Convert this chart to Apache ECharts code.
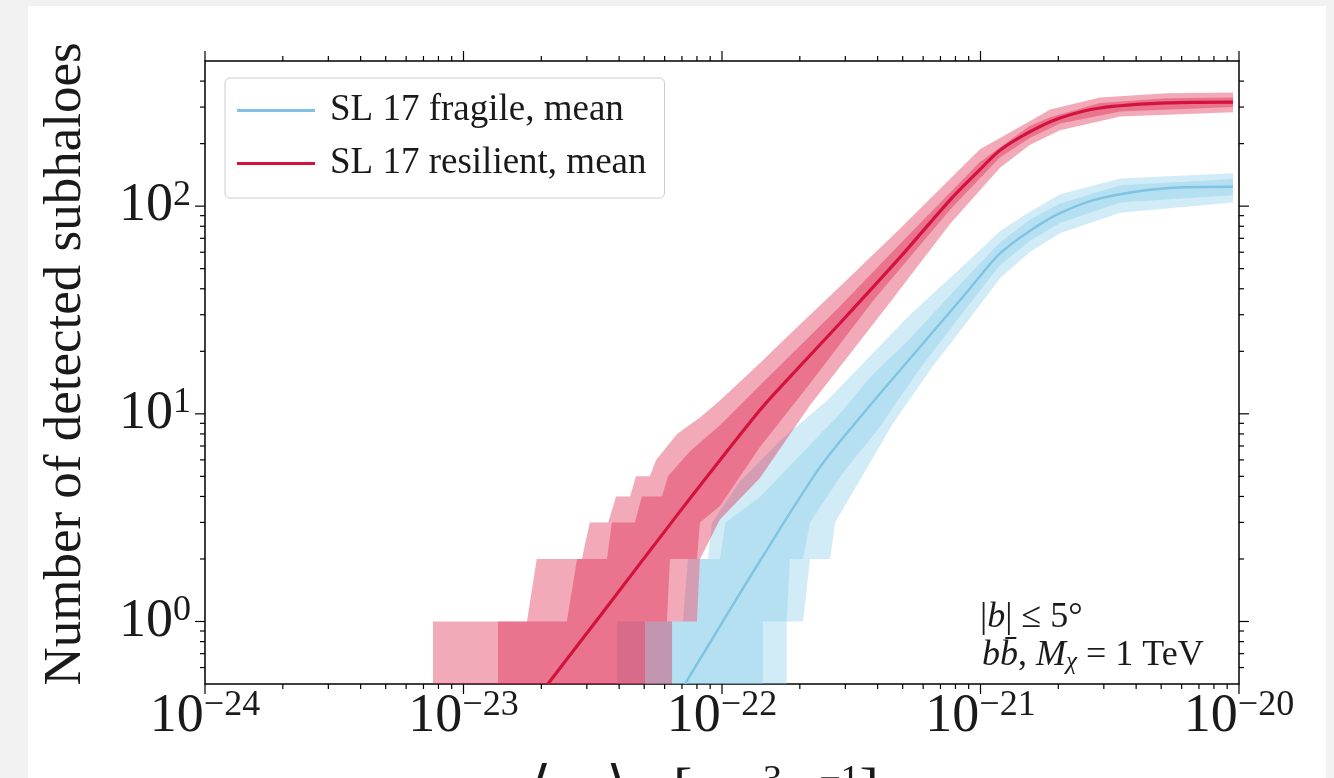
<!DOCTYPE html>
<html><head><meta charset="utf-8">
<script src="https://cdn.jsdelivr.net/npm/echarts@6/dist/echarts.min.js"></script>
<style>
html,body{margin:0;padding:0;background:#f2f2f2;}
#card{position:absolute;left:28px;top:6px;width:1298px;height:772px;background:#fff;}
#chart{position:absolute;left:0;top:0;width:1334px;height:778px;}
</style></head><body>
<div id="card"></div><div id="chart"></div>
<script>
// ---------------- data ----------------
const xMajorTicks = [1e-24, 1e-23, 1e-22, 1e-21, 1e-20];
const yMajorTicks = [1, 10, 100];
const minorMultipliers = [2, 3, 4, 5, 6, 7, 8, 9];

// SL 17 fragile (blue)
const fragileMeanX = [7.19e-23, 1.40e-22, 2.39e-22, 3.42e-22, 8.33e-22, 9.95e-22, 1.19e-21, 1.55e-21, 2.03e-21, 2.90e-21, 5.26e-21, 9.48e-21];
const fragileMeanY = [0.5, 1.95, 5.52, 9.62, 35.2, 46, 59.3, 76, 92.5, 109, 122, 124];

const fragileOuterUpX = [3.93e-23, 3.93e-23, 7.06e-23, 7.38e-23, 8.83e-23, 9.14e-23, 1.17e-22, 1.67e-22, 2.55e-22, 3.74e-22, 5.33e-22, 8.33e-22, 1.19e-21, 1.55e-21, 2.03e-21, 3.47e-21, 9.48e-21];
const fragileOuterUpY = [0.5, 1, 1, 2, 2, 3, 4.7, 7.4, 11.6, 19, 30, 50, 76, 94, 114, 136, 144];
const fragileOuterLoX = [1.78e-22, 1.78e-22, 2.06e-22, 2.19e-22, 2.62e-22, 2.74e-22, 3.21e-22, 4.59e-22, 6.55e-22, 8.33e-22, 1.19e-21, 1.55e-21, 2.03e-21, 3.47e-21, 9.48e-21];
const fragileOuterLoY = [0.5, 1, 1, 2, 2, 3, 4.2, 9, 17, 25, 45, 60, 74, 93, 104];

const fragileInnerUpX = [5.04e-23, 5.04e-23, 8.00e-23, 8.22e-23, 9.82e-23, 1.03e-22, 1.40e-22, 2.00e-22, 2.86e-22, 3.74e-22, 5.33e-22, 8.33e-22, 1.19e-21, 1.55e-21, 2.03e-21, 3.47e-21, 9.48e-21];
const fragileInnerUpY = [0.5, 1, 1, 2, 2, 3, 3.96, 6.3, 10, 15, 23, 42, 67, 86, 103, 126, 135];
const fragileInnerLoX = [1.44e-22, 1.44e-22, 1.78e-22, 1.83e-22, 2.06e-22, 2.19e-22, 2.94e-22, 3.98e-22, 5.83e-22, 8.33e-22, 1.19e-21, 1.55e-21, 2.03e-21, 3.47e-21, 9.48e-21];
const fragileInnerLoY = [0.5, 1, 1, 2, 2, 3, 5.2, 8.3, 16.5, 29.5, 52, 68, 83, 104, 113];

// SL 17 resilient (red)
const resilientMeanX = [2.12e-23, 3.37e-23, 6.89e-23, 1.40e-22, 1.78e-22, 2.86e-22, 4.89e-22, 7.62e-22, 9.95e-22, 1.19e-21, 1.55e-21, 2.03e-21, 2.90e-21, 5.26e-21, 9.48e-21];
const resilientMeanY = [0.5, 1.06, 3.4, 10.4, 14.5, 27.3, 56.8, 107, 150, 186, 228, 266, 297, 314, 317];

const resilientOuterUpX = [7.62e-24, 7.62e-24, 1.76e-23, 1.92e-23, 2.87e-23, 3.08e-23, 3.63e-23, 3.89e-23, 4.41e-23, 4.65e-23, 5.26e-23, 5.56e-23, 6.70e-23, 8.22e-23, 9.82e-23, 1.40e-22, 1.88e-22, 2.86e-22, 4.89e-22, 9.95e-22, 1.55e-21, 1.86e-21, 2.90e-21, 5.26e-21, 9.48e-21];
const resilientOuterUpY = [0.5, 1, 1, 2, 2, 3, 3, 4, 4, 5, 5, 6, 8, 9.6, 11.6, 17.5, 25, 41, 78, 188, 256, 292, 334, 350, 353];
const resilientOuterLoX = [6.41e-23, 6.41e-23, 8.00e-23, 8.22e-23, 9.82e-23, 1.40e-22, 2.19e-22, 4.35e-22, 7.62e-22, 1.19e-21, 1.55e-21, 2.03e-21, 3.47e-21, 9.48e-21];
const resilientOuterLoY = [0.5, 1, 1, 2, 3.1, 4.9, 11, 33, 82, 153, 197, 232, 270, 283];

const resilientInnerUpX = [1.36e-23, 1.36e-23, 2.51e-23, 2.75e-23, 3.59e-23, 3.75e-23, 4.60e-23, 4.90e-23, 5.86e-23, 6.18e-23, 7.52e-23, 9.82e-23, 1.40e-22, 2.86e-22, 4.89e-22, 9.95e-22, 1.55e-21, 1.86e-21, 2.90e-21, 5.26e-21, 9.48e-21];
const resilientInnerUpY = [0.5, 1, 1, 2, 2, 3, 3, 4, 4, 5, 6.6, 8.8, 13.7, 33, 66, 163, 243, 268, 314, 331, 334];
const resilientInnerLoX = [5.04e-23, 5.04e-23, 6.12e-23, 6.29e-23, 8.00e-23, 8.22e-23, 9.82e-23, 1.40e-22, 2.19e-22, 3.84e-22, 7.62e-22, 1.19e-21, 1.55e-21, 2.03e-21, 3.47e-21, 9.48e-21];
const resilientInnerLoY = [0.5, 1, 1, 2, 2, 3, 3.6, 6.9, 14, 35, 96, 172, 213, 250, 286, 300];

// ---------------- styling ----------------
const FONT = '"Liberation Serif", "Times New Roman", serif';
const TXT = '#1a1a1a';
const BLUE_LINE = '#7fc4e2';
const BLUE_FILL = 'rgba(135,206,235,0.38)';
const RED_LINE = '#d3133d';
const RED_FILL = 'rgba(220,20,60,0.36)';
const X_MIN = 1e-24, X_MAX = 1e-20, Y_MIN = 0.5, Y_MAX = 500;

function pairs(xs, ys) { return xs.map((x, i) => [x, ys[i]]); }

function bandSeries(upX, upY, loX, loY, color) {
  return {
    type: 'custom',
    silent: true,
    clip: true,
    data: [[upX[0], upY[0]]],
    renderItem: function (params, api) {
      const pts = [];
      for (let i = 0; i < upX.length; i++) pts.push(api.coord([upX[i], upY[i]]));
      for (let i = loX.length - 1; i >= 0; i--) pts.push(api.coord([loX[i], loY[i]]));
      return { type: 'polygon', shape: { points: pts }, style: { fill: color } };
    }
  };
}

function lineSeries(name, xs, ys, color, width) {
  return {
    name: name, type: 'line', data: pairs(xs, ys), showSymbol: false, symbol: 'none',
    smooth: 0.3, lineStyle: { color: color, width: width }, itemStyle: { color: color },
    silent: true, clip: true
  };
}

function expText(v) { const e = Math.round(Math.log10(v)); return (e < 0 ? '\u2212' : '') + Math.abs(e); }
function isDecade(v) { const e = Math.log10(v); return Math.abs(e - Math.round(e)) < 1e-6; }

const labelRich = {
  b: { fontFamily: FONT, fontSize: 54, lineHeight: 58, fill: TXT, color: TXT },
  s: { fontFamily: FONT, fontSize: 36, lineHeight: 36, verticalAlign: 'top', fill: TXT, color: TXT }
};

// tick lists (axis decoration)
const xTicks = [];
xMajorTicks.forEach(v => xTicks.push([v, 1, 1]));
for (let i = 0; i < xMajorTicks.length - 1; i++) minorMultipliers.forEach(m => xTicks.push([m * xMajorTicks[i], 1, 0]));
const yTicks = [];
yMajorTicks.forEach(v => yTicks.push([1e-22, v, 1]));
[0.1, 1, 10, 100].forEach(d => minorMultipliers.forEach(m => { const v = m * d; if (v > Y_MIN * 1.0001 && v < Y_MAX * 0.9999) yTicks.push([1e-22, v, 0]); }));

const tickStyle = { stroke: '#000', lineWidth: 1.2 };
const xTickSeries = {
  type: 'custom', silent: true, clip: false, z: 5, data: xTicks,
  renderItem: function (params, api) {
    const x = api.value(0), major = api.value(2);
    const L = major ? 10 : 5;
    const b = api.coord([x, Y_MIN]), t = api.coord([x, Y_MAX]);
    return { type: 'group', children: [
      { type: 'line', shape: { x1: b[0], y1: b[1], x2: b[0], y2: b[1] + L }, style: tickStyle },
      { type: 'line', shape: { x1: t[0], y1: t[1], x2: t[0], y2: t[1] - L }, style: tickStyle }
    ]};
  }
};
const yTickSeries = {
  type: 'custom', silent: true, clip: false, z: 5, data: yTicks,
  renderItem: function (params, api) {
    const y = api.value(1), major = api.value(2);
    const L = major ? 10 : 5;
    const l = api.coord([X_MIN, y]), r = api.coord([X_MAX, y]);
    return { type: 'group', children: [
      { type: 'line', shape: { x1: l[0], y1: l[1], x2: l[0] - L, y2: l[1] }, style: tickStyle },
      { type: 'line', shape: { x1: r[0], y1: r[1], x2: r[0] + L, y2: r[1] }, style: tickStyle }
    ]};
  }
};
const xLabelSeries = {
  type: 'custom', silent: true, clip: false, z: 5, data: xMajorTicks.map(v => [v, Y_MIN]),
  renderItem: function (params, api) {
    const v = api.value(0);
    const p = api.coord([v, Y_MIN]);
    return { type: 'text', x: p[0], y: p[1] + 4, style: {
      text: '{b|10}{s|' + expText(v) + '}', align: 'center', verticalAlign: 'top', rich: labelRich } };
  }
};

const chart = echarts.init(document.getElementById('chart'), null, { renderer: 'canvas' });
chart.setOption({
  animation: false,
  backgroundColor: 'transparent',
  grid: { left: 205, right: 95, top: 61, bottom: 94, show: true, borderColor: '#000', borderWidth: 1.5, backgroundColor: 'transparent', outerBoundsMode: 'none', containLabel: false },
  xAxis: {
    type: 'log', logBase: 10, min: X_MIN, max: X_MAX,
    axisLine: { show: false }, axisTick: { show: false }, splitLine: { show: false }, minorTick: { show: false }, minorSplitLine: { show: false },
    axisLabel: { show: false }
  },
  yAxis: {
    type: 'log', logBase: 10, min: Y_MIN, max: Y_MAX,
    axisLine: { show: false }, axisTick: { show: false }, splitLine: { show: false }, minorTick: { show: false }, minorSplitLine: { show: false },
    axisLabel: {
      margin: 14, hideOverlap: false, showMinLabel: false, showMaxLabel: false,
      formatter: v => isDecade(v) ? '{b|10}{s|' + expText(v) + '}' : '',
      rich: labelRich
    }
  },
  legend: {
    left: 225, top: 78, orient: 'vertical',
    data: ['SL 17 fragile, mean', 'SL 17 resilient, mean'],
    icon: 'rect', itemWidth: 78, itemHeight: 3, itemGap: 16,
    padding: [14, 18, 16, 12],
    backgroundColor: 'rgba(255,255,255,0.8)', borderColor: '#cccccc', borderWidth: 1, borderRadius: 5,
    textStyle: { fontFamily: FONT, fontSize: 37, lineHeight: 37, color: TXT, padding: [0, 0, 0, 10] },
    selectedMode: false
  },
  graphic: [
    { type: 'text', x: 66, y: 364, rotation: Math.PI / 2, silent: true,
      style: { text: 'Number of detected subhaloes', font: '53px ' + FONT, fill: TXT, align: 'center', verticalAlign: 'middle' } },
    { type: 'text', x: 704, y: 792, silent: true,
      style: { text: '{l|\u27e8}{i|\u03c3v}{l|\u27e9}{l|   [cm}{s|3}{l| s}{s|\u22121}{l|]}', align: 'center', verticalAlign: 'middle',
        rich: {
          l: { fontFamily: FONT, fontSize: 58, lineHeight: 60, fill: TXT },
          i: { fontFamily: FONT, fontStyle: 'italic', fontSize: 58, lineHeight: 60, fill: TXT },
          s: { fontFamily: FONT, fontSize: 38, lineHeight: 38, verticalAlign: 'top', fill: TXT }
        } } },
    { type: 'text', x: 980, y: 618, silent: true,
      style: { text: '{t||}{i|b}{t|| \u2264 5\u00b0}', align: 'left', verticalAlign: 'middle',
        rich: {
          t: { fontFamily: FONT, fontSize: 36, lineHeight: 38, fill: TXT },
          i: { fontFamily: FONT, fontStyle: 'italic', fontSize: 36, lineHeight: 38, fill: TXT }
        } } },
    { type: 'text', x: 982, y: 656, silent: true,
      style: { text: '{i|b}{i|b\u0304}{t|, }{i|M}{sub|\u03c7}{t| = 1 TeV}', align: 'left', verticalAlign: 'middle',
        rich: {
          t: { fontFamily: FONT, fontSize: 36, lineHeight: 38, fill: TXT },
          i: { fontFamily: FONT, fontStyle: 'italic', fontSize: 36, lineHeight: 38, fill: TXT },
          sub: { fontFamily: FONT, fontStyle: 'italic', fontSize: 25, lineHeight: 25, verticalAlign: 'bottom', fill: TXT }
        } } }
  ],
  series: [
    bandSeries(fragileOuterUpX, fragileOuterUpY, fragileOuterLoX, fragileOuterLoY, BLUE_FILL),
    bandSeries(fragileInnerUpX, fragileInnerUpY, fragileInnerLoX, fragileInnerLoY, BLUE_FILL),
    lineSeries('SL 17 fragile, mean', fragileMeanX, fragileMeanY, BLUE_LINE, 2.4),
    bandSeries(resilientOuterUpX, resilientOuterUpY, resilientOuterLoX, resilientOuterLoY, RED_FILL),
    bandSeries(resilientInnerUpX, resilientInnerUpY, resilientInnerLoX, resilientInnerLoY, RED_FILL),
    lineSeries('SL 17 resilient, mean', resilientMeanX, resilientMeanY, RED_LINE, 3.2),
    xTickSeries,
    yTickSeries,
    xLabelSeries
  ]
});
</script>
</body></html>
